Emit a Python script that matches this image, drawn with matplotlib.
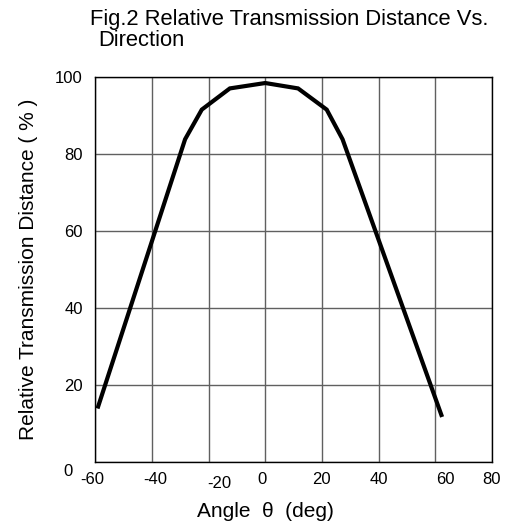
import matplotlib.pyplot as plt
from matplotlib.transforms import ScaledTranslation

# angle (deg) vs relative transmission distance (%)
angle = [-59, -28.3, -22.4, -12.5, 0, 11.6, 21.7, 27.3, 62.2]
distance = [14.4, 83.8, 91.5, 97.0, 98.4, 97.0, 91.5, 83.8, 12.2]

x_ticks = [-60, -40, -20, 0, 20, 40, 60, 80]
x_labels = ["-60", "-40", "-20", "0", "20", "40", "60", "80"]
y_ticks = [0, 20, 40, 60, 80, 100]
y_labels = ["0", "20", "40", "60", "80", "100"]

plt.rcParams["font.family"] = ["Liberation Sans", "DejaVu Sans"]

fig = plt.figure(figsize=(5.07, 5.29), dpi=100)
ax = fig.add_axes([0.188, 0.1267, 0.782, 0.728])

ax.plot(angle, distance, color="black", linewidth=3, solid_joinstyle="miter")
ax.set_xlim(-60, 80)
ax.set_ylim(0, 100)
ax.set_xticks(x_ticks, x_labels)
ax.set_yticks(y_ticks, y_labels)
ax.tick_params(length=0, labelsize=12)
ax.tick_params(axis="x", pad=7)
ax.tick_params(axis="y", pad=9)
ax.grid(True, color="#606060", linewidth=1)
for s in ax.spines.values():
    s.set_color("black")
    s.set_linewidth(1)

# small quirks in label placement of the original figure (pixels)
x_shift = {"-60": (-3, 0), "-40": (3, 0), "-20": (11, -4), "0": (-3, 0), "60": (10, 0)}
for lab in ax.get_xticklabels():
    dx, dy = x_shift.get(lab.get_text(), (0, 0))
    lab.set_transform(lab.get_transform() + ScaledTranslation(dx / 100, dy / 100, fig.dpi_scale_trans))
for lab in ax.get_yticklabels():
    if lab.get_text() == "0":
        lab.set_transform(lab.get_transform() + ScaledTranslation(-10 / 100, -8 / 100, fig.dpi_scale_trans))

ax.set_xlabel("Angle  \u03b8  (deg)", fontsize=15)
ax.xaxis.set_label_coords(0.428, -0.105)
ax.set_ylabel("Relative Transmission Distance ( % )", fontsize=15)
ax.yaxis.set_label_coords(-0.145, 0.5)

fig.text(90 / 507, 1 - 20 / 529, "Fig.2 Relative Transmission Distance Vs.",
         fontsize=15.8, va="center", ha="left")
fig.text(98 / 507, 1 - 41 / 529, "Direction", fontsize=15.8, va="center", ha="left")

fig.savefig("out.png", dpi=100)
